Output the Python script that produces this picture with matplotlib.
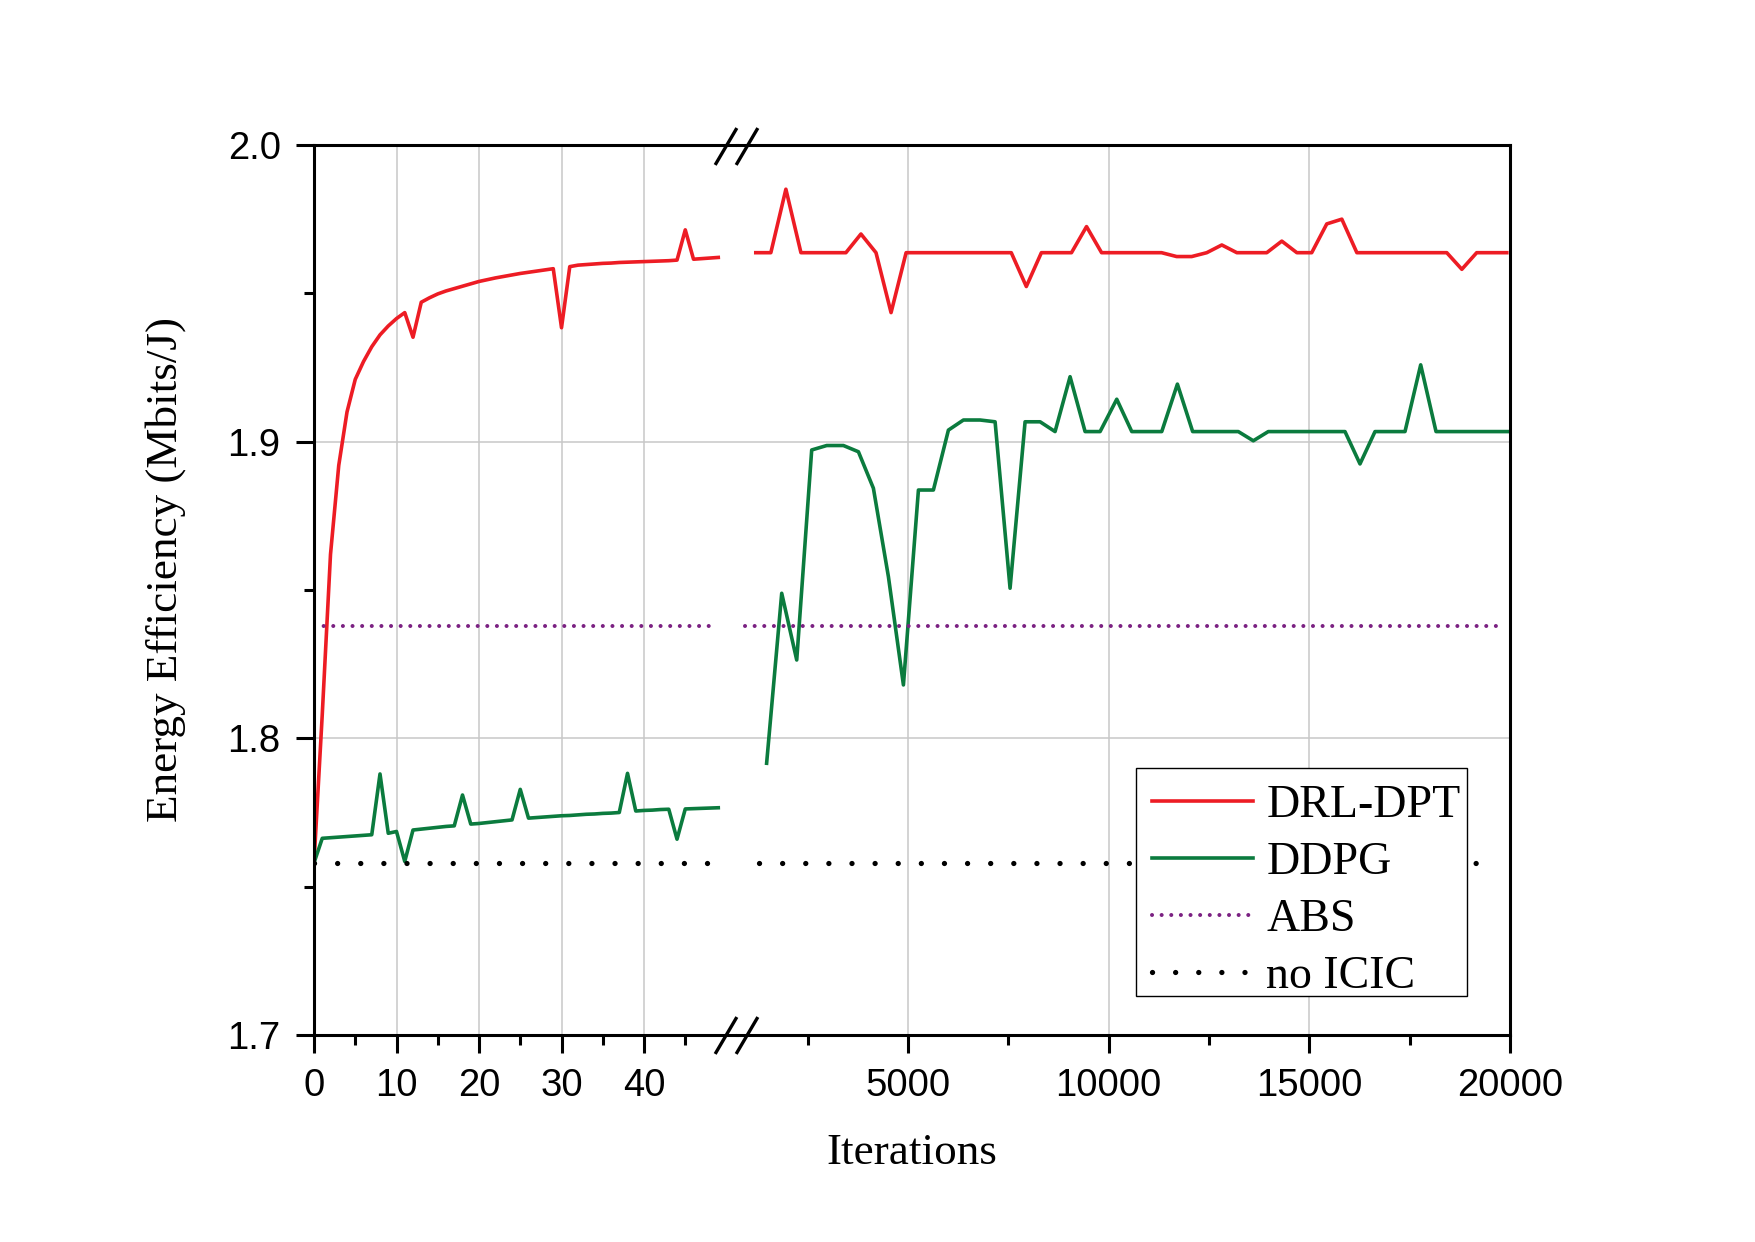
import matplotlib
matplotlib.use("Agg")
import matplotlib.pyplot as plt
from matplotlib.lines import Line2D
from matplotlib.patches import Rectangle

# ---------------- data ----------------
drl_left_x = list(range(0, 50))
drl_left_y = [1.758, 1.808, 1.862, 1.892, 1.910, 1.921, 1.927, 1.932, 1.936, 1.939,
              1.9415, 1.9435, 1.9352, 1.947, 1.9485, 1.9498, 1.9508, 1.9516, 1.9524, 1.9532,
              1.954, 1.9546, 1.9552, 1.9557, 1.9562, 1.9567, 1.9571, 1.9575, 1.9579, 1.9583,
              1.9384, 1.959, 1.9595, 1.9597, 1.9599, 1.9601, 1.9602, 1.9604, 1.9605, 1.9606,
              1.9607, 1.9608, 1.9609, 1.961, 1.9612, 1.9714, 1.9615, 1.9617, 1.9619, 1.9621]

ddpg_left_x = list(range(0, 50))
ddpg_left_y = [1.758, 1.7663, 1.7665, 1.7667, 1.7669, 1.7671, 1.7673, 1.7675, 1.7880, 1.7680,
               1.7686, 1.7585, 1.7691, 1.7694, 1.7697, 1.7700, 1.7703, 1.7705, 1.7809, 1.7711,
               1.7713, 1.7716, 1.7719, 1.7722, 1.7725, 1.7828, 1.7731, 1.7733, 1.7735, 1.7737,
               1.7739, 1.7740, 1.7742, 1.7744, 1.7745, 1.7747, 1.7748, 1.7750, 1.7882, 1.7755,
               1.7757, 1.7758, 1.7760, 1.7761, 1.7660, 1.7762, 1.7763, 1.7764, 1.7765, 1.7766]

drl_right_x = [1210, 1585, 1960, 2335, 3455, 3830, 4205, 4580, 4955, 7575, 7950, 8325,
               9075, 9450, 9825, 11320, 11695, 12070, 12445, 12820, 13195, 13940, 14315,
               14690, 15060, 15435, 15810, 16185, 18425, 18800, 19170, 19920]
drl_right_y = [1.9637, 1.9637, 1.9851, 1.9637, 1.9637, 1.9700, 1.9637, 1.9435, 1.9637,
               1.9637, 1.9523, 1.9637, 1.9637, 1.9725, 1.9637, 1.9637, 1.9624, 1.9624,
               1.9637, 1.9663, 1.9637, 1.9637, 1.9676, 1.9637, 1.9637, 1.9734, 1.9750,
               1.9637, 1.9637, 1.9581, 1.9637, 1.9637]

ddpg_right_x = [1480, 1856, 2230, 2603, 2977, 3393, 3767, 4140, 4514, 4888, 5262, 5635,
                6009, 6383, 6798, 7172, 7545, 7919, 8293, 8666, 9040, 9414, 9788, 10203,
                10577, 11324, 11714, 12094, 13231, 13605, 13978, 15889, 16263, 16637,
                17384, 17775, 18157, 20000]
ddpg_right_y = [1.7916, 1.8489, 1.8264, 1.8972, 1.8987, 1.8987, 1.8966, 1.8843, 1.8545,
                1.8180, 1.8837, 1.8837, 1.9039, 1.9073, 1.9073, 1.9067, 1.8506, 1.9067,
                1.9067, 1.9034, 1.9219, 1.9034, 1.9034, 1.9143, 1.9034, 1.9034, 1.9194,
                1.9034, 1.9034, 1.9003, 1.9034, 1.9034, 1.8925, 1.9034, 1.9034, 1.9259,
                1.9034, 1.9034]

abs_value = 1.838
noicic_value = 1.758
abs_left_x = [0, 48.5]
abs_right_x = [950, 19800]
noicic_left_x = [0, 47.8]
noicic_right_x = [1300, 19700]

left_ticks = [0, 10, 20, 30, 40]
left_minor = [5, 15, 25, 35, 45]
right_ticks = [5000, 10000, 15000, 20000]
right_minor = [2500, 7500, 12500, 17500]
y_ticks = [1.7, 1.8, 1.9, 2.0]
y_minor = [1.75, 1.85, 1.95]
labels = ["DRL-DPT", "DDPG", "ABS", "no ICIC"]

# ---------------- style ----------------
RED = "#ed1c24"
GREEN = "#0b7b3e"
PURPLE = "#7b2182"
GRID = "#c8c8c8"
TICKFONT = "Liberation Sans"
SERIF = "Liberation Serif"

W, H = 1755, 1242
fig = plt.figure(figsize=(W / 100, H / 100), dpi=100)

L, R, T, B, BRK = 314, 1510, 145, 1035, 737
ax1 = fig.add_axes([L / W, 1 - B / H, (BRK - L) / W, (B - T) / H])
ax2 = fig.add_axes([BRK / W, 1 - B / H, (R - BRK) / W, (B - T) / H])

ax1.set_xlim(0, 51.27)
ax2.set_xlim(742, 20000)
for ax in (ax1, ax2):
    ax.set_ylim(1.7, 2.0)
    ax.set_axisbelow(True)
    ax.grid(True, which="major", color=GRID, lw=1.1)
    for s in ax.spines.values():
        s.set_linewidth(2.2)

ab_kw = dict(color=PURPLE, lw=2.9, linestyle=(0, (0.01, 2.38)), dash_capstyle="round")
no_kw = dict(color="black", lw=3.8, linestyle=(0, (0.01, 4.37)), dash_capstyle="round")
LW = 2.6

h1, = ax1.plot(drl_left_x, drl_left_y, color=RED, lw=LW)
h2, = ax1.plot(ddpg_left_x, ddpg_left_y, color=GREEN, lw=LW)
h3, = ax1.plot(abs_left_x, [abs_value] * 2, **ab_kw)
h4, = ax1.plot(noicic_left_x, [noicic_value] * 2, **no_kw)

ax2.plot(drl_right_x, drl_right_y, color=RED, lw=LW)
ax2.plot(ddpg_right_x, ddpg_right_y, color=GREEN, lw=LW)
ax2.plot(abs_right_x, [abs_value] * 2, **ab_kw)
ax2.plot(noicic_right_x, [noicic_value] * 2, **no_kw)

# ticks
ax1.set_xticks(left_ticks)
ax1.set_xticks(left_minor, minor=True)
ax2.set_xticks(right_ticks)
ax2.set_xticks(right_minor, minor=True)
ax1.set_yticks(y_ticks)
ax1.set_yticks(y_minor, minor=True)
ax1.set_yticklabels([f"{v:.1f}" for v in y_ticks])
ax2.set_yticks(y_ticks)
ax2.tick_params(axis="y", which="both", left=False, labelleft=False)

for ax in (ax1, ax2):
    ax.tick_params(axis="both", which="major", direction="out", length=13, width=2.2,
                   labelsize=27.5, pad=11)
    ax.tick_params(axis="both", which="minor", direction="out", length=7, width=2.2)
    for lab in ax.get_xticklabels() + ax.get_yticklabels():
        lab.set_fontfamily(TICKFONT)

ax1.spines["right"].set_visible(False)
ax2.spines["left"].set_visible(False)

# axis labels
fig.text(912 / W, 1 - 1153 / H, "Iterations", family=SERIF, fontsize=32.5,
         ha="center", va="center")
fig.text(166 / W, 1 - 569 / H, "Energy Efficiency (Mbits/J)", family=SERIF,
         fontsize=32.5, rotation=90, ha="center", va="center")

# break marks
for yc in (T + 1.5, B + 0.5):
    for xc in (726, 747):
        fig.add_artist(Line2D([(xc - 10) / W, (xc + 10) / W],
                              [1 - (yc + 17) / H, 1 - (yc - 17) / H],
                              transform=fig.transFigure, color="black", lw=2.4))

# legend box (frame drawn separately)
LB_L, LB_R, LB_T, LB_B = 1136, 1467, 768, 996
fig.add_artist(Rectangle((LB_L / W, 1 - LB_B / H), (LB_R - LB_L) / W, (LB_B - LB_T) / H,
                         transform=fig.transFigure, facecolor="white", edgecolor="black",
                         lw=1.0, zorder=4.9))
leg = fig.legend([h1, h2, h3, h4], labels, loc="upper left",
                 bbox_to_anchor=(LB_L / W, 1 - LB_T / H), borderaxespad=0,
                 prop={"family": SERIF, "size": 33}, frameon=False,
                 handlelength=2.2, handletextpad=0.29, borderpad=0.35,
                 labelspacing=0.32)
leg.set_zorder(5)

fig.savefig("out.png", dpi=100, facecolor="white")
